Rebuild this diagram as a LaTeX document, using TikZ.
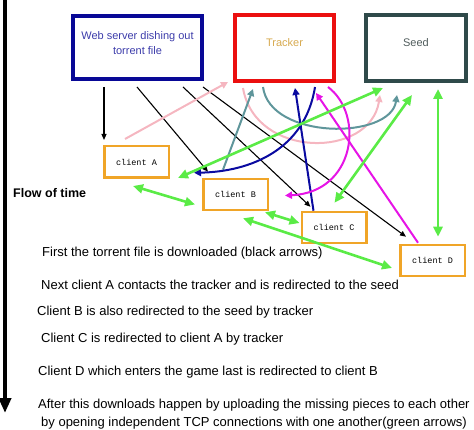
\documentclass[tikz,border=0pt]{standalone}
\usepackage{fontspec}
\setmainfont{Liberation Sans}
\newfontfamily\clientfont{Liberation Mono}
\usetikzlibrary{arrows.meta}
\definecolor{webblue}{RGB}{8,8,150}
\definecolor{webtext}{RGB}{60,60,170}
\definecolor{trkred}{RGB}{235,15,15}
\definecolor{trktext}{RGB}{215,170,80}
\definecolor{seedcol}{RGB}{47,74,74}
\definecolor{seedtext}{RGB}{80,92,92}
\definecolor{clorange}{RGB}{240,165,40}
\definecolor{grn}{RGB}{90,235,70}
\definecolor{pnk}{RGB}{245,182,192}
\definecolor{tealc}{RGB}{95,150,155}
\definecolor{arcblue}{RGB}{10,10,160}
\definecolor{mag}{RGB}{230,20,230}
\begin{document}
\begin{tikzpicture}[x=1pt,y=-1pt,
  bigbox/.style={draw,line width=4pt,inner sep=0pt,minimum height=66pt},
  clbox/.style={draw=clorange,line width=2.5pt,inner sep=0pt,minimum width=64.5pt,minimum height=31pt,font=\clientfont\fontsize{8.5}{10}\selectfont},
  body/.style={anchor=base west,inner sep=0pt,font=\fontsize{13}{15}\selectfont},
  blk/.style={-{Triangle[length=6pt,width=5pt]},line width=1.1pt,black},
  thinc/.style={-{Triangle[length=7pt,width=7pt]},line width=2pt},
  grnarrow/.style={{Triangle[length=10pt,width=9pt]}-{Triangle[length=10pt,width=9pt]},line width=2.6pt,grn}]
\useasboundingbox (0,0) rectangle (474,430);
% time axis
\coordinate (tstart) at (5,0);
\coordinate (tend) at (5,413);
\draw[line width=4pt,-{Triangle[length=15pt,width=12pt]}] (tstart) -- (tend);
\node[anchor=base west,inner sep=0pt,font=\bfseries\fontsize{12.5}{14}\selectfont] (flow) at (13,198) {Flow of time};
% big boxes
\node[bigbox,draw=webblue,minimum width=129pt,minimum height=63pt,
  label={[yshift=4pt,align=center,text=webtext,font=\fontsize{11}{15}\selectfont]center:Web server dishing out\\torrent file}] (W) at (137.5,47.5) {};
\node[bigbox,draw=trkred,minimum width=99pt,
  label={[yshift=5pt,text=trktext,font=\fontsize{11}{13}\selectfont]center:Tracker}] (T) at (284.5,48) {};
\node[bigbox,draw=seedcol,minimum width=100pt,
  label={[yshift=5pt,text=seedtext,font=\fontsize{11}{13}\selectfont]center:Seed}] (S) at (416,48) {};
% clients
\node[clbox,minimum height=31.5pt] (A) at (136.5,162) {client A};
\node[clbox] (B) at (235.5,194.5) {client B};
\node[clbox] (C) at (334,227.5) {client C};
\node[clbox] (D) at (432.5,260.5) {client D};
% black arrows: torrent file download
\draw[blk] ([xshift=33pt,yshift=-6pt]W.south west) -- ([xshift=1pt,yshift=5pt]A.north west);
\draw[blk] ([xshift=66pt,yshift=-6pt]W.south west) -- ([xshift=6pt,yshift=6pt]B.north west);
\draw[blk] ([xshift=112pt,yshift=-6pt]W.south west) -- ([xshift=10pt,yshift=4pt]C.north west);
\draw[blk] ([xshift=132pt,yshift=-6pt]W.south west) -- ([xshift=7pt,yshift=7pt]D.north west);
% pink: client A
\draw[thinc,pnk] ([xshift=22pt,yshift=6pt]A.north west) -- ([xshift=-5pt,yshift=1pt]T.south west);
\draw[thinc,pnk] ([xshift=10pt,yshift=-5pt]T.south west) .. controls +(12,71) and +(-10,64) .. ([xshift=16pt,yshift=-12pt]S.south west);
% teal: client B
\draw[thinc,tealc] ([xshift=21pt,yshift=8pt]B.north west) -- ([xshift=20pt,yshift=-6pt]T.south west);
\draw[thinc,tealc] ([xshift=30pt,yshift=-4pt]T.south west) .. controls +(7,53) and +(-7,45) .. ([xshift=33pt,yshift=-12pt]S.south west);
% blue: client C
\draw[thinc,arcblue] ([xshift=13pt]C.north west) -- ([xshift=62pt,yshift=-5pt]T.south west);
\draw[thinc,arcblue] ([xshift=82pt,yshift=-4pt]T.south west) .. controls +(-10,63) and +(56,-1) .. ([xshift=-8pt,yshift=5pt]B.north west);
% magenta: client D
\draw[thinc,mag] ([xshift=19pt,yshift=1pt]D.north west) -- ([xshift=83pt,yshift=-10pt]T.south west);
\draw[thinc,mag] ([xshift=95pt,yshift=-4pt]T.south west) .. controls +(37,28) and +(70,-3) .. ([xshift=16pt,yshift=-1pt]B.east);
% green: peer connections
\draw[grnarrow] ([xshift=30pt,yshift=-7pt]A.south west) -- ([xshift=-7pt,yshift=-10pt]B.west);
\draw[grnarrow] ([xshift=19pt,yshift=-5pt]S.south west) -- ([xshift=8pt,yshift=1pt]A.south east);
\draw[grnarrow] ([xshift=-4pt,yshift=-1pt]B.south east) -- ([xshift=-1pt,yshift=4.5pt]C.west);
\draw[grnarrow] ([xshift=41pt,yshift=-7pt]B.south west) -- ([xshift=-7pt,yshift=-7.5pt]D.west);
\draw[grnarrow] ([xshift=48pt,yshift=-12pt]S.south west) -- ([xshift=34pt,yshift=8pt]C.north west);
\draw[grnarrow] ([xshift=74pt,yshift=-6pt]S.south west) -- ([xshift=39pt,yshift=7pt]D.north west);
% explanations
\node[body] (l1) at (42,257) {First the torrent file is downloaded (black arrows)};
\node[body] (l2) at (41,290) {Next client A contacts the tracker and is redirected to the seed};
\node[body] (l3) at (37,316) {Client B is also redirected to the seed by tracker};
\node[body] (l4) at (41,343) {Client C is redirected to client A by tracker};
\node[body] (l5) at (38,375) {Client D which enters the game last is redirected to client B};
\node[body] (l6) at (38,408) {After this downloads happen by uploading the missing pieces to each other};
\node[body] (l7) at (41,426) {by opening independent TCP connections with one another(green arrows)};
\end{tikzpicture}
\end{document}
